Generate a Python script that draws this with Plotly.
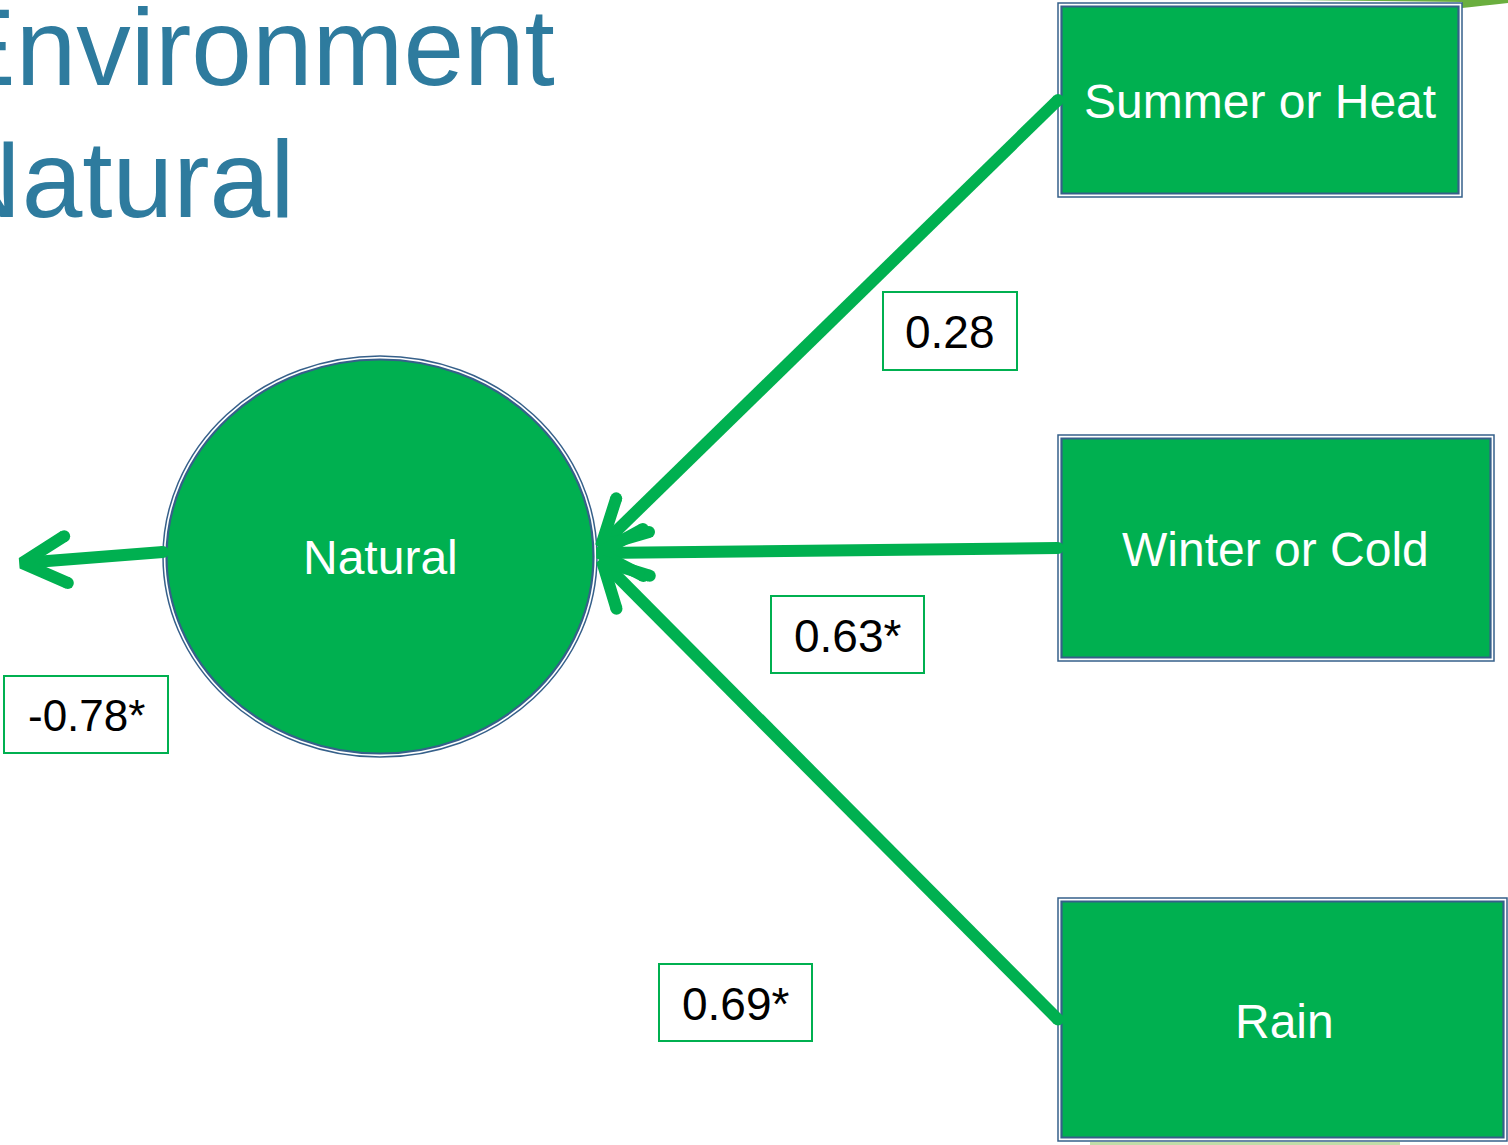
import math
import plotly.graph_objects as go

# ---------------- data ----------------
title_lines = ["Environment", "Natural"]
latent_name = "Natural"
predictors = ["Summer or Heat", "Winter or Cold", "Rain"]
path_coefs = [0.28, 0.63, 0.69]
path_sig = [False, True, True]
outcome_coef = -0.78
outcome_sig = True

# ---------------- layout geometry (pixels) ----------------
W, H = 1508, 1145
box_x0 = [1058, 1058, 1058]
box_x1 = [1462, 1494, 1507]
box_y0 = [3, 435, 898]
box_y1 = [197, 661, 1141]
box_text_x = [1260, 1275, 1284]
box_text_y = [101, 549, 1021]
ell_x0, ell_x1, ell_y0, ell_y1 = 163, 597, 356, 757
tip_x = [601, 599, 602]
tip_y = [546, 553, 561]
lab_x0 = [883, 771, 659]
lab_x1 = [1017, 924, 812]
lab_y0 = [292, 596, 964]
lab_y1 = [370, 673, 1041]
out_lab = (4, 676, 168, 753)
out_src = (163, 552)
out_tip = (22, 563)
title_shift = -59
title_y = [47, 179]

GREEN = "#00B050"
BORDER = "#36608A"
TITLE = "#2E7B9E"
FONT = "Liberation Sans, Arial, sans-serif"
LW = 12
WING_LEN = 50
WING_ANG = math.radians(28)


def fmt(v, sig):
    return f"{v:.2f}" + ("*" if sig else "")


fig = go.Figure()
shapes = []
annotations = []

# decorative swooshes from slide template
shapes.append(dict(type="path", layer="below",
                   path="M 1290 0 L 1508 0 L 1508 3 Q 1480 6 1462 8 L 1462 2 Q 1380 1 1290 0 Z",
                   fillcolor="#6AAE3E", line=dict(width=0)))
shapes.append(dict(type="rect", layer="below", x0=1090, x1=1400, y0=1142, y1=1145,
                   fillcolor="#BFDDA8", line=dict(width=0)))

# predictor boxes
for i, name in enumerate(predictors):
    x0, x1, y0, y1 = box_x0[i], box_x1[i], box_y0[i], box_y1[i]
    shapes.append(dict(type="rect", layer="below", x0=x0, x1=x1, y0=y0, y1=y1,
                       fillcolor="white", line=dict(color=BORDER, width=1.5)))
    shapes.append(dict(type="rect", layer="below", x0=x0 + 3.5, x1=x1 - 3.5, y0=y0 + 3.5, y1=y1 - 3.5,
                       fillcolor=GREEN, line=dict(color=BORDER, width=2.2)))
    annotations.append(dict(x=box_text_x[i], y=box_text_y[i], text=name, showarrow=False,
                            xanchor="center", yanchor="middle",
                            font=dict(family=FONT, size=48, color="white")))

# latent ellipse
shapes.append(dict(type="circle", layer="below", x0=ell_x0, x1=ell_x1, y0=ell_y0, y1=ell_y1,
                   fillcolor="white", line=dict(color=BORDER, width=1.5)))
shapes.append(dict(type="circle", layer="below", x0=ell_x0 + 3.5, x1=ell_x1 - 3.5,
                   y0=ell_y0 + 3.5, y1=ell_y1 - 3.5,
                   fillcolor=GREEN, line=dict(color=BORDER, width=2.2)))
annotations.append(dict(x=(ell_x0 + ell_x1) / 2, y=557, text=latent_name, showarrow=False,
                        xanchor="center", yanchor="middle",
                        font=dict(family=FONT, size=48, color="white")))


def arrow(src, tip):
    dx, dy = src[0] - tip[0], src[1] - tip[1]
    a = math.atan2(dy, dx)
    w1 = (tip[0] + WING_LEN * math.cos(a + WING_ANG), tip[1] + WING_LEN * math.sin(a + WING_ANG))
    w2 = (tip[0] + WING_LEN * math.cos(a - WING_ANG), tip[1] + WING_LEN * math.sin(a - WING_ANG))
    xs = [src[0], tip[0], None, w1[0], tip[0], w2[0]]
    ys = [src[1], tip[1], None, w1[1], tip[1], w2[1]]
    fig.add_trace(go.Scatter(x=xs, y=ys, mode="lines", line=dict(color=GREEN, width=LW),
                             hoverinfo="skip", showlegend=False))
    fig.add_trace(go.Scatter(x=[src[0], w1[0], w2[0]], y=[src[1], w1[1], w2[1]], mode="markers",
                             marker=dict(color=GREEN, size=LW, line=dict(width=0)),
                             hoverinfo="skip", showlegend=False))


for i in range(len(predictors)):
    src = (box_x0[i], (box_y0[i] + box_y1[i]) / 2)
    arrow(src, (tip_x[i], tip_y[i]))
arrow(out_src, out_tip)

# coefficient labels
for i, (v, s) in enumerate(zip(path_coefs, path_sig)):
    shapes.append(dict(type="rect", layer="above", x0=lab_x0[i], x1=lab_x1[i], y0=lab_y0[i], y1=lab_y1[i],
                       fillcolor="white", line=dict(color=GREEN, width=2)))
    annotations.append(dict(x=(lab_x0[i] + lab_x1[i]) / 2, y=(lab_y0[i] + lab_y1[i]) / 2 + 1,
                            text=fmt(v, s), showarrow=False, xanchor="center", yanchor="middle",
                            font=dict(family=FONT, size=46, color="black")))
shapes.append(dict(type="rect", layer="above", x0=out_lab[0], y0=out_lab[1], x1=out_lab[2], y1=out_lab[3],
                   fillcolor="white", line=dict(color=GREEN, width=2)))
annotations.append(dict(x=(out_lab[0] + out_lab[2]) / 2, y=(out_lab[1] + out_lab[3]) / 2 + 1,
                        text=fmt(outcome_coef, outcome_sig), showarrow=False,
                        xanchor="center", yanchor="middle",
                        font=dict(family=FONT, size=44, color="black")))

# title (partly cut off at the left edge, as on the slide)
for line, ty in zip(title_lines, title_y):
    annotations.append(dict(x=0, y=ty, xshift=title_shift, text=line, showarrow=False,
                            xanchor="left", yanchor="middle",
                            font=dict(family=FONT, size=109, color=TITLE)))

fig.update_layout(
    width=W, height=H, margin=dict(l=0, r=0, t=0, b=0),
    paper_bgcolor="white", plot_bgcolor="white",
    xaxis=dict(range=[0, W], visible=False, fixedrange=True),
    yaxis=dict(range=[H, 0], visible=False, fixedrange=True),
    shapes=shapes, annotations=annotations, showlegend=False,
)
fig.write_html("out.html", config={"displayModeBar": False},
               post_script="document.body.style.margin='0';document.body.style.overflow='hidden';")
